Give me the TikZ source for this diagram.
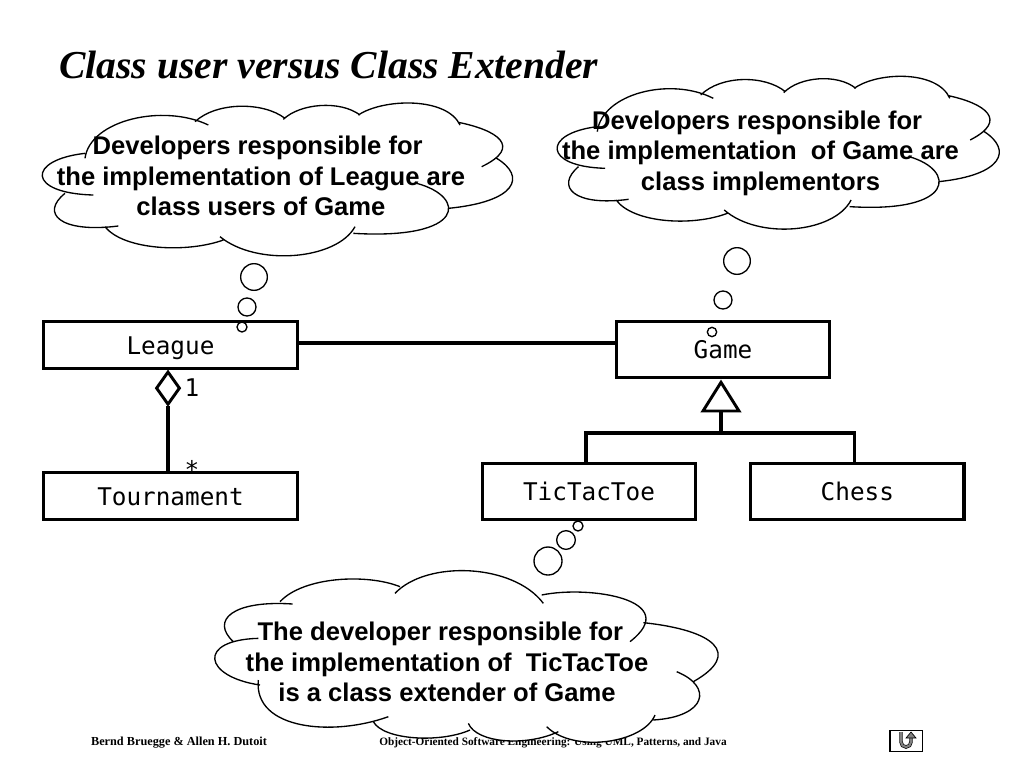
\documentclass[tikz,border=0pt]{standalone}
\usepackage{fontspec}
\setmainfont{Liberation Serif}
\setmonofont{DejaVu Sans Mono}
\newfontfamily\helvfont{Liberation Sans}
\usepackage{tikz}
\usetikzlibrary{positioning,calc,shapes.geometric}

\newcommand{\cloudupper}{
  (165,205) .. controls (180,90) and (400,40) .. (535,105)
  (495,95) .. controls (560,35) and (700,35) .. (765,85)
  (760,88) .. controls (810,40) and (930,30) .. (990,75)
  (985,75) .. controls (1060,25) and (1250,20) .. (1290,105)
  (1285,97) .. controls (1400,120) and (1480,170) .. (1355,230)
  (1400,205) .. controls (1490,260) and (1460,335) .. (1255,355)
  (1160,280) .. controls (1310,320) and (1310,450) .. (970,430)
  (975,410) .. controls (920,510) and (680,530) .. (570,440)
  (580,450) .. controls (470,490) and (280,480) .. (225,410)
  (265,408) .. controls (90,430) and (30,370) .. (105,310)
  (190,315) .. controls (-10,310) and (-10,210) .. (165,190)
}
\newcommand{\cloudlower}{
  (100,395) .. controls (30,330) and (100,270) .. (278,282)
  (240,275) .. controls (310,200) and (500,190) .. (600,230)
  (585,250) .. controls (680,150) and (940,160) .. (1030,280)
  (1025,255) .. controls (1170,225) and (1450,270) .. (1290,395)
  (1330,338) .. controls (1540,360) and (1630,430) .. (1480,515)
  (1430,485) .. controls (1540,530) and (1520,620) .. (1360,630)
  (1365,615) .. controls (1330,700) and (1120,730) .. (1040,650)
  (1075,665) .. controls (980,710) and (830,700) .. (805,640)
  (810,660) .. controls (720,700) and (550,690) .. (520,635)
  (565,620) .. controls (400,680) and (160,660) .. (175,510)
  (180,525) .. controls (10,500) and (-10,390) .. (175,385)
}

\begin{document}
\begin{tikzpicture}[
    x=.75pt, y=-.75pt,
    umlclass/.style={draw, line width=2.4pt, fill=white, inner sep=0pt, outer sep=0pt,
      text height=14pt, text depth=0pt, font=\ttfamily\fontsize{18.25}{20}\selectfont},
    narrowclass/.style={umlclass, minimum width=191pt, minimum height=35.5pt},
    wideclass/.style={umlclass, minimum width=160pt, minimum height=42.5pt},
    umlline/.style={line width=2.3pt},
    multlabel/.style={inner sep=0pt, font=\ttfamily\fontsize{18.25}{20}\selectfont},
    cloudline/.style={line width=1pt, fill=white},
    cloudtext/.style={align=center, inner sep=0pt, font=\helvfont\bfseries\fontsize{19.2}{22.9}\selectfont},
    bubble/.style={circle, draw, line width=1pt, fill=white, inner sep=0pt},
    footer/.style={inner sep=0pt, font=\bfseries\fontsize{8.47}{10}\selectfont},
  ]
  \useasboundingbox (0,0) rectangle (1024,768);

  \node[inner sep=0pt, anchor=base west, font=\bfseries\itshape\fontsize{29.7}{34}\selectfont] (title) at (59,78)
    {Class user versus Class Extender};

  \node[footer, font=\bfseries\fontsize{9.2}{10}\selectfont] (authors) at (179,743) {Bernd Bruegge \& Allen H. Dutoit};
  \node[footer] (book) at (553,743) {Object-Oriented Software Engineering: Using UML, Patterns, and Java};

  % class boxes
  \node[narrowclass] (league) at (170.5,345) {League};
  \node[narrowclass, below=77.75pt of league] (tournament) {Tournament};
  \node[wideclass] (game) at (723,349.5) {Game};
  \node[wideclass] (tictactoe) at (589,491.5) {TicTacToe};
  \node[wideclass, right=41.25pt of tictactoe] (chess) {Chess};

  % association and aggregation
  \coordinate (leagueport) at (297,343);
  \draw[umlline] (leagueport) -- (leagueport -| game.west);
  \node[diamond, draw, line width=2.2pt, fill=white, inner sep=0pt, minimum width=18pt, minimum height=25pt,
    anchor=north] (whole) at (168,370) {};
  \draw[umlline] (whole.south) -- (whole.south |- tournament.north);
  \node[multlabel] (one) at (192,388) {1};
  \node[multlabel] (many) at (192,469) {*};

  % generalization tree
  \node[isosceles triangle, isosceles triangle stretches, shape border rotate=90, draw, line width=2.2pt,
    fill=white, inner sep=0pt, minimum width=27pt, minimum height=21.5pt, anchor=apex] (parent) at (721,378.5) {};
  \coordinate (genbus) at (721,433);
  \draw[umlline] (parent.lower side) -- (genbus);
  \draw[umlline] ($(tictactoe.north)+(-3,0)$) |- (genbus);
  \draw[umlline] ($(chess.north)+(-3,0)$) |- (genbus);

  % thought bubbles
  \node[bubble, minimum size=20pt] (bubblea1) at (254,277) {};
  \node[bubble, minimum size=13.5pt] (bubblea2) at (247,307) {};
  \node[bubble, minimum size=7.5pt] (bubblea3) at (242,327) {};
  \node[bubble, minimum size=20pt] (bubbleb1) at (737,261) {};
  \node[bubble, minimum size=13.5pt] (bubbleb2) at (723,300) {};
  \node[bubble, minimum size=7pt] (bubbleb3) at (712,332) {};
  \node[bubble, minimum size=21pt] (bubblec1) at (548,561) {};
  \node[bubble, minimum size=14pt] (bubblec2) at (566,540) {};
  \node[bubble, minimum size=7.5pt] (bubblec3) at (578,526) {};

  % clouds
  \begin{scope}[shift={(30,90)}, x=.25pt, y=-.25pt]
    \fill[white] (730,270) ellipse [x radius=600, y radius=170];
    \draw[cloudline] \cloudupper;
  \end{scope}
  \begin{scope}[shift={(545.6,63.3)}, x=.235pt, y=-.25pt]
    \fill[white] (730,270) ellipse [x radius=600, y radius=170];
    \draw[cloudline] \cloudupper;
  \end{scope}
  \begin{scope}[shift={(200,510)}, x=.25pt, y=-.25pt]
    \fill[white] (780,450) ellipse [x radius=600, y radius=200];
    \draw[cloudline] \cloudlower;
  \end{scope}

  \node[cloudtext] (usertext) at (261,176)
    {Developers responsible for\hspace*{5pt}\\the implementation of League are\\class users of Game};
  \node[cloudtext] (implementortext) at (760.5,153)
    {Developers responsible for\hspace*{5pt}\\the implementation\ \ of Game are\\class implementors};
  \node[cloudtext] (extendertext) at (447,662)
    {The developer responsible for\hspace*{10pt}\\the implementation of\ \ TicTacToe\\is a class extender of Game};

  % return button
  \node[draw, line width=.9pt, inner sep=0pt, minimum width=24.5pt, minimum height=15.5pt] (backbox) at (906.3,741) {};
  \coordinate (backtip) at (911,732);
  \draw[double=black!50, double distance=1.6pt, line width=.5pt] ($(backtip)+(0,6)$) -- ($(backtip)+(0,10)$)
    arc[start angle=0, end angle=180, radius=5] -- ++(0,-10);
  \draw[line width=.5pt, fill=black!50] (backtip) -- ++(5,6) -- ++(-10,0) -- cycle;
\end{tikzpicture}
\end{document}
